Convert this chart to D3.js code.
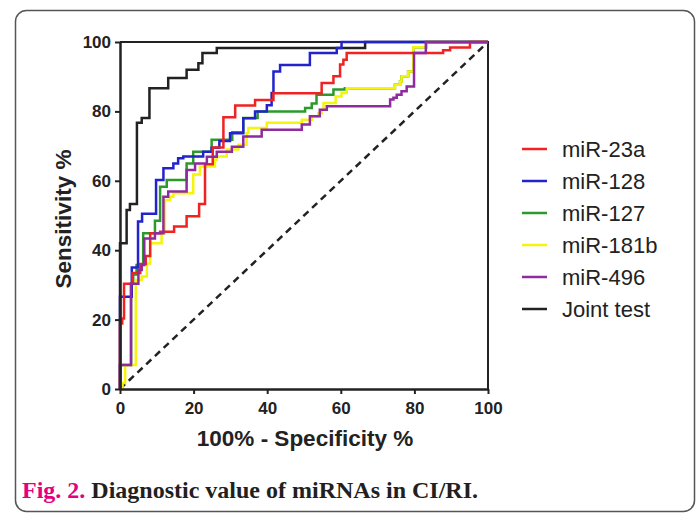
<!DOCTYPE html>
<html lang="en">
<head>
<meta charset="UTF-8">
<title>ROC curves of miRNAs</title>
<style>
    body { margin: 0; background: #fff; }
    svg text { font-family: Arial, "Liberation Sans", sans-serif; }
</style>
</head>
<body>
<div id="chart"></div>
<script src="https://d3js.org/d3.v7.min.js"></script>
<script>
// ROC points as [100% - specificity, sensitivity]; each point is where the step rises
const mir23a = [[0,0],[0,18.9],[0.6,20.3],[1.1,30.3],[3.4,33.4],[5.5,36],[7,38.3],[8.2,44.9],[10.9,45.3],[14.7,46.8],[18.1,49.8],[21.5,53.3],[23.1,64.8],[25.2,69.6],[28.1,78.3],[31.3,81.7],[36.7,83.3],[41.7,85.2],[54.8,88.2],[58,90.1],[59.8,93.5],[60.7,94.9],[61.6,96.8],[87.8,97.6],[89.7,98.4],[95.1,100],[100,100]];
const mir128 = [[0,0],[0,26.6],[3.2,35],[4.9,48.3],[6,50.5],[9.8,60.2],[11.8,63.6],[14.5,65],[15.8,66.5],[17.2,67],[22.6,68.4],[24.9,69.5],[27,71.5],[29.9,73.7],[33.5,78],[36.7,80],[39.9,81.8],[41.2,85.3],[41.7,91.5],[43.5,93.4],[51.6,96.8],[58.9,98.3],[60.2,100],[100,100]];
const mir127 = [[0,0],[0,6.9],[3,30.3],[3.6,33],[4.5,35.7],[6.3,44.9],[9.5,48.5],[10.9,58.3],[12.7,60.2],[18.1,65],[19.9,68.4],[24.9,71.8],[30.5,74],[33.5,78.1],[37.4,80],[50.3,81],[52.1,82.3],[53.4,84.8],[58,86.3],[61.1,86.7],[74.7,87.7],[76.1,88.6],[76.5,90.1],[78.3,91.5],[79.7,98.5],[83.3,100],[100,100]];
const mir181b = [[0,0],[0.7,1.7],[1.4,6.9],[4.3,31.4],[5.9,32.4],[7.3,36.2],[8.2,42],[11.3,44.9],[12.2,54.5],[13.6,55.4],[14.5,56.4],[19.9,61.8],[21.7,64.1],[25.8,66.1],[26.3,67],[29,69],[32.2,70.4],[34.4,73.8],[34.9,75.2],[39.9,76.7],[49.4,77.6],[52.1,78.5],[53.9,79.5],[54.8,80.5],[55.3,82.4],[58.6,84.3],[60.2,85.3],[61.6,86.7],[74.7,87.7],[76.1,88.6],[76.5,90.1],[78.3,91.5],[79.7,98.5],[83.3,100],[100,100]];
const mir496 = [[0,0],[0,6.9],[3,30.3],[5,34.3],[5.9,35.7],[6.6,43.4],[9.5,44.9],[11.8,55.4],[13.1,56.9],[18.1,63.1],[20.4,65],[23.6,66.9],[26.3,68.4],[30.4,69.8],[33.5,72.8],[38.5,74.7],[49.4,76.2],[51.6,78.6],[54.3,80.5],[56.2,81.5],[73.4,83.4],[74.3,83.9],[75.2,84.8],[76.5,85.8],[77.9,87.2],[79.9,96.8],[83.1,100],[100,100]];
const jointTest = [[0,0],[0,42],[1.8,51.6],[2.7,53.3],[4.6,76.7],[5.9,78.1],[8,86.7],[13.1,89.6],[18.1,92],[21.3,93.9],[22.4,96.8],[26.3,98.3],[66.6,100],[100,100]];

const seriesNames = ["miR-23a", "miR-128", "miR-127", "miR-181b", "miR-496", "Joint test"];
const seriesData = [mir23a, mir128, mir127, mir181b, mir496, jointTest];
const seriesColors = ["#f02222", "#2323cc", "#2a9a2a", "#f4f40c", "#8e2b9e", "#222222"];
const drawOrder = [5, 2, 3, 1, 0, 4]; // bottom to top
const tickValues = [0, 20, 40, 60, 80, 100];

const w = 697, h = 513;
const svg = d3.select("#chart").append("svg")
    .attr("width", w)
    .attr("height", h);

// rounded figure box
svg.append("rect")
    .attr("x", 15.5).attr("y", 10.5)
    .attr("width", 679).attr("height", 501)
    .attr("rx", 11)
    .attr("fill", "none")
    .attr("stroke", "#555")
    .attr("stroke-width", 1.5);

const x = d3.scaleLinear().domain([0, 100]).range([120, 488]);
const y = d3.scaleLinear().domain([0, 100]).range([389, 42]);

// top and right frame
svg.append("path")
    .attr("d", `M${x(0)},${y(100)}H${x(100)}V${y(0)}`)
    .attr("fill", "none")
    .attr("stroke", "#222")
    .attr("stroke-width", 2);

// reference diagonal
svg.append("line")
    .attr("x1", x(0)).attr("y1", y(0))
    .attr("x2", x(100)).attr("y2", y(100))
    .attr("stroke", "#222")
    .attr("stroke-width", 2.5)
    .attr("stroke-dasharray", "7,5");

const line = d3.line()
    .x(d => x(d[0]))
    .y(d => y(d[1]))
    .curve(d3.curveStepAfter);

svg.append("g").selectAll("path")
    .data(drawOrder)
    .join("path")
    .attr("d", i => line(seriesData[i]))
    .attr("fill", "none")
    .attr("stroke", i => seriesColors[i])
    .attr("stroke-width", 2.5);

const xAxis = d3.axisBottom(x).tickValues(tickValues).tickSize(5).tickSizeOuter(0).tickPadding(8);
const yAxis = d3.axisLeft(y).tickValues(tickValues).tickSize(5).tickSizeOuter(0).tickPadding(4);

const gx = svg.append("g").attr("transform", `translate(0,${y(0)})`).call(xAxis);
const gy = svg.append("g").attr("transform", `translate(${x(0)},0)`).call(yAxis);

[gx, gy].forEach(g => {
    g.attr("font-family", "Arial, 'Liberation Sans', sans-serif");
    g.select(".domain").attr("stroke", "#222").attr("stroke-width", 2.5);
    g.selectAll(".tick line").attr("stroke", "#222").attr("stroke-width", 2);
    g.selectAll(".tick text")
        .attr("fill", "#222")
        .style("font-size", "17px")
        .style("font-weight", "bold");
});

svg.append("text")
    .attr("x", 305).attr("y", 446)
    .attr("text-anchor", "middle")
    .style("font-size", "22.5px")
    .style("font-weight", "bold")
    .attr("fill", "#222")
    .text("100% - Specificity %");

svg.append("text")
    .attr("transform", "translate(71,219) rotate(-90)")
    .attr("text-anchor", "middle")
    .style("font-size", "22.5px")
    .style("font-weight", "bold")
    .attr("fill", "#222")
    .text("Sensitivity %");

// legend
const legend = svg.append("g").selectAll("g")
    .data(seriesNames)
    .join("g")
    .attr("transform", (d, i) => `translate(522,${149 + i * 32})`);

legend.append("line")
    .attr("x1", 0).attr("x2", 25)
    .attr("stroke", (d, i) => seriesColors[i])
    .attr("stroke-width", 2.5);

legend.append("text")
    .attr("x", 40)
    .attr("dy", "0.35em")
    .style("font-size", "22px")
    .attr("fill", "#222")
    .text(d => d);

// caption
const caption = svg.append("text")
    .attr("x", 22).attr("y", 498)
    .style("font-family", "'Liberation Serif', 'Times New Roman', serif")
    .style("font-size", "24px")
    .style("font-weight", "bold");
caption.append("tspan").attr("fill", "#e4007f").text("Fig. 2.");
caption.append("tspan").attr("fill", "#231f20").text(" Diagnostic value of miRNAs in CI/RI.");
</script>
</body>
</html>
